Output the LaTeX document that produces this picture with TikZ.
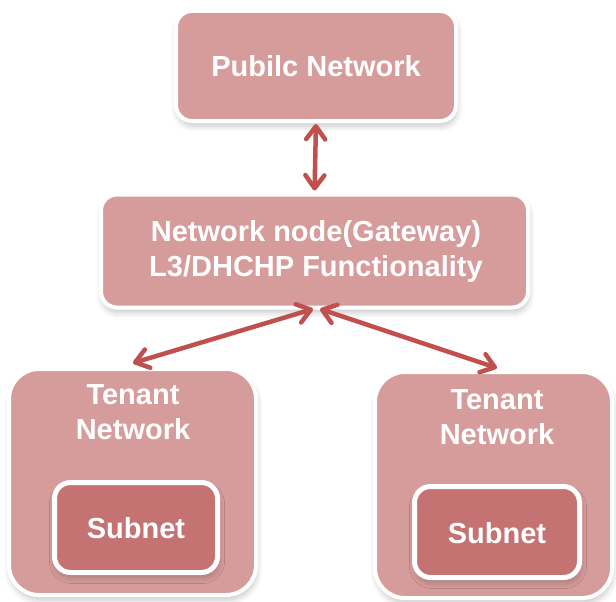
\documentclass[tikz,border=0pt]{standalone}
\usepackage{fontspec}
\setmainfont{Liberation Sans}
\usetikzlibrary{arrows.meta,shadows.blur}
\definecolor{boxfill}{RGB}{214,155,155}
\definecolor{subfill}{RGB}{197,114,114}
\definecolor{arrowred}{RGB}{192,80,77}
\tikzset{
  box/.style={draw=white, line width=4pt, fill=boxfill, rounded corners=16pt,
    blur shadow={shadow xshift=1pt, shadow yshift=-5pt, shadow blur steps=8, shadow blur radius=6pt, shadow opacity=22},
    text=white, font=\bfseries\fontsize{29}{35}\selectfont, align=center, inner sep=0pt},
  tenantbox/.style={box, rounded corners=30pt},
  subbox/.style={box, fill=subfill, line width=5pt, rounded corners=16pt},
  title/.style={text=white, font=\bfseries\fontsize{29}{35}\selectfont, align=center, inner sep=0pt},
  barb/.tip={Straight Barb[length=13pt,width=19pt,line cap=round,line join=round]},
  conn/.style={arrowred, line width=4.5pt, barb-barb}
}
\begin{document}
\begin{tikzpicture}[x=1pt,y=-1pt]
\useasboundingbox (0,0) rectangle (616,602);
\node[box, minimum width=280pt, minimum height=110pt] (pub) at (316,66) {};
\node[title] (pubt) at (316,66) {Pubilc Network};
\node[box, minimum width=427pt, minimum height=113pt] (gw) at (314.5,251) {};
\node[title] (gwt) at (316,252) {Network node(Gateway)\\L3/DHCHP Functionality};
\node[tenantbox, minimum width=247pt, minimum height=226pt] (tl) at (132.5,482) {};
\node[title] (tlt) at (133,412) {Tenant\\Network};
\node[subbox, minimum width=163pt, minimum height=90pt] (sl) at (136,527.5) {};
\node[title] (slt) at (136,528) {Subnet};
\node[tenantbox, minimum width=237pt, minimum height=226pt] (tr) at (493.5,485) {};
\node[title] (trt) at (497,417) {Tenant\\Network};
\node[subbox, minimum width=165pt, minimum height=91pt] (sr) at (497,532) {};
\node[title] (srt) at (497,533) {Subnet};
\coordinate (gwl) at (313,309);
\coordinate (gwr) at (320,309);
\coordinate (tlin) at (133,363);
\coordinate (trin) at (497,368);
\draw[conn, shorten <=1pt, shorten >=2pt] (pub.south) -- (gw.north);
\draw[conn] (gwl) -- (tlin);
\draw[conn] (gwr) -- (trin);
\end{tikzpicture}
\end{document}
